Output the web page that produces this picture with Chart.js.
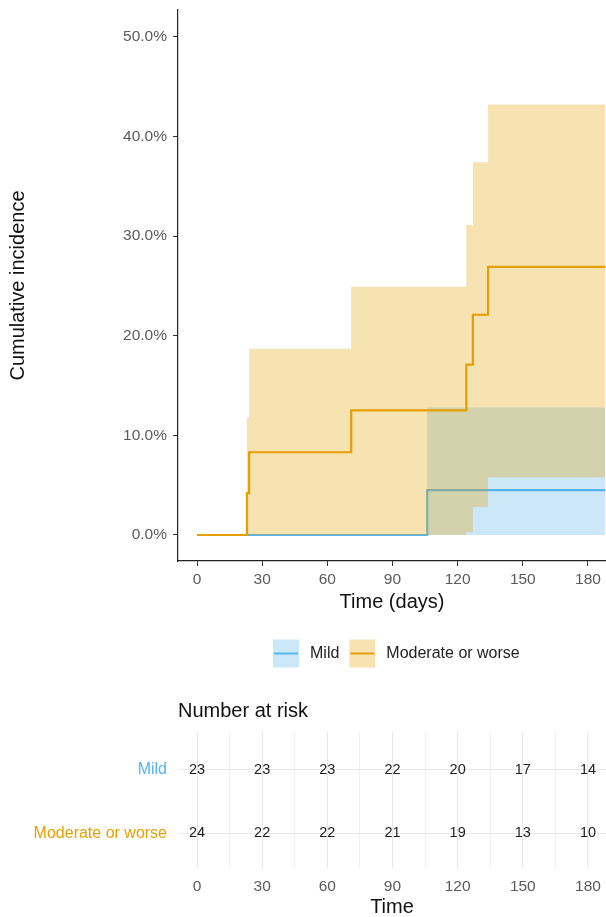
<!DOCTYPE html>
<html><head><meta charset="utf-8">
<script src="https://cdn.jsdelivr.net/npm/chart.js@4.4.1/dist/chart.umd.min.js"></script>
<style>html,body{margin:0;padding:0;background:#fff;overflow:hidden;}canvas{display:block;}</style>
</head><body>
<canvas id="main" width="606" height="690"></canvas>
<canvas id="risk" width="606" height="227"></canvas>
<script>
// ---- data ----
const groups = ['Mild', 'Moderate or worse'];
const modTimes  = [0, 23, 24, 71, 124, 127, 134, 188];
const modEst    = [0, 4.2, 8.3, 12.5, 17.1, 22.1, 26.9, 26.9];
const modUpper  = [0, 11.8, 18.7, 24.9, 31.1, 37.4, 43.2, 43.2];
const modLower  = [0, 0, 0, 0, 0.3, 2.8, 5.8, 5.8];
const mildTimes = [0, 106, 188];
const mildEst   = [0, 4.5, 4.5];
const mildUpper = [0, 12.8, 12.8];
const mildLower = [0, 0, 0];
const riskTimes    = [0, 30, 60, 90, 120, 150, 180];
const riskMild     = [23, 23, 23, 22, 20, 17, 14];
const riskModerate = [24, 22, 22, 21, 19, 13, 10];

const F = "'Liberation Sans', Arial, sans-serif";
const BLUE = '#56B4E9', ORANGE = '#E69F00';
const BLUE_F = 'rgba(86,180,233,0.3)', ORANGE_F = 'rgba(230,159,0,0.3)';
const NONE = 'rgba(0,0,0,0)';
const pts = (xs, ys) => xs.map((x, i) => ({x: x, y: ys[i]}));
const X_MIN = -8.75, X_MAX = 188.3;

function zeroPad(s){ s.paddingTop = 0; s.paddingBottom = 0; s.paddingLeft = 0; s.paddingRight = 0; }

const legendPlugin = {
  id: 'keyLegend',
  afterDraw(chart) {
    const ctx = chart.ctx;
    const items = [
      {label: groups[0], line: BLUE, fill: BLUE_F},
      {label: groups[1], line: ORANGE, fill: ORANGE_F}
    ];
    const cy = 653.5, kw = 26, kh = 28;
    ctx.save();
    ctx.font = '16px ' + F;
    ctx.textBaseline = 'middle';
    ctx.textAlign = 'left';
    let x = 273;
    items.forEach(it => {
      ctx.fillStyle = it.fill;
      ctx.fillRect(x, cy - kh / 2, kw, kh);
      ctx.strokeStyle = it.line;
      ctx.lineWidth = 2;
      ctx.beginPath(); ctx.moveTo(x + 1, cy); ctx.lineTo(x + kw - 1, cy); ctx.stroke();
      x += kw + 11;
      ctx.fillStyle = '#222';
      ctx.fillText(it.label, x, cy);
      x += ctx.measureText(it.label).width + 10;
    });
    ctx.restore();
  }
};

new Chart(document.getElementById('main'), {
  type: 'line',
  data: {
    datasets: [
      {label: groups[1], data: pts(modTimes, modEst), borderColor: ORANGE, borderWidth: 2.2, stepped: true, pointRadius: 0, fill: false},
      {label: 'mod upper', data: pts(modTimes, modUpper), borderColor: NONE, borderWidth: 0, stepped: true, pointRadius: 0, fill: {target: 2}, backgroundColor: ORANGE_F},
      {label: 'mod lower', data: pts(modTimes, modLower), borderColor: NONE, borderWidth: 0, stepped: true, pointRadius: 0, fill: false},
      {label: groups[0], data: pts(mildTimes, mildEst), borderColor: BLUE, borderWidth: 2.2, stepped: true, pointRadius: 0, fill: false},
      {label: 'mild upper', data: pts(mildTimes, mildUpper), borderColor: NONE, borderWidth: 0, stepped: true, pointRadius: 0, fill: {target: 5}, backgroundColor: BLUE_F},
      {label: 'mild lower', data: pts(mildTimes, mildLower), borderColor: NONE, borderWidth: 0, stepped: true, pointRadius: 0, fill: false}
    ]
  },
  options: {
    responsive: false, animation: false, devicePixelRatio: 1,
    layout: {padding: {top: 10, bottom: 69, left: 0, right: 0}},
    plugins: {legend: {display: false}, tooltip: {enabled: false}},
    scales: {
      x: {
        type: 'linear', min: X_MIN, max: X_MAX,
        ticks: {stepSize: 30, includeBounds: false, color: '#5a5a5a', font: {family: F, size: 15.5}, padding: 4, maxRotation: 0, autoSkip: false},
        grid: {drawOnChartArea: false, drawTicks: true, tickLength: 5, tickColor: '#333', tickWidth: 1},
        border: {display: true, color: '#222', width: 1.2},
        title: {display: true, text: 'Time (days)', color: '#111', font: {family: F, size: 20, lineHeight: 1}, padding: {top: 0, bottom: 9}},
        afterFit: s => { s.height = 60; zeroPad(s); }
      },
      y: {
        type: 'linear', min: -2.61, max: 52.68,
        ticks: {stepSize: 10, includeBounds: false, color: '#5a5a5a', font: {family: F, size: 15.5}, padding: 6, callback: v => v.toFixed(1) + '%'},
        grid: {drawOnChartArea: false, drawTicks: true, tickLength: 5, tickColor: '#333', tickWidth: 1},
        border: {display: true, color: '#222', width: 1.2},
        title: {display: true, text: 'Cumulative incidence', color: '#111', font: {family: F, size: 20, lineHeight: 1}, padding: {top: 8, bottom: 0}},
        afterFit: s => { s.width = 178; zeroPad(s); }
      }
    }
  },
  plugins: [legendPlugin]
});

const numbersPlugin = {
  id: 'riskNumbers',
  afterDatasetsDraw(chart) {
    const ctx = chart.ctx;
    ctx.save();
    ctx.font = '14.5px ' + F;
    ctx.fillStyle = '#1e1e1e';
    ctx.textAlign = 'center';
    ctx.textBaseline = 'middle';
    chart.data.datasets.forEach((ds, di) => {
      chart.getDatasetMeta(di).data.forEach((el, i) => {
        ctx.fillText(String(ds.data[i].n), el.x, el.y);
      });
    });
    ctx.restore();
  }
};

new Chart(document.getElementById('risk'), {
  type: 'scatter',
  data: {
    datasets: [
      {label: groups[0], data: riskTimes.map((t, i) => ({x: t, y: 1, n: riskMild[i]})), pointRadius: 0},
      {label: groups[1], data: riskTimes.map((t, i) => ({x: t, y: 0, n: riskModerate[i]})), pointRadius: 0}
    ]
  },
  options: {
    responsive: false, animation: false, devicePixelRatio: 1,
    layout: {padding: 0},
    plugins: {
      legend: {display: false}, tooltip: {enabled: false},
      title: {display: true, text: 'Number at risk', align: 'start', fullSize: false, color: '#111',
              font: {family: F, size: 20, weight: 'normal', lineHeight: 1.2}, padding: {top: 9, bottom: 9}}
    },
    scales: {
      x: {
        type: 'linear', min: X_MIN, max: X_MAX,
        ticks: {stepSize: 15, includeBounds: false, autoSkip: false, maxRotation: 0, color: '#5a5a5a', font: {family: F, size: 15.5}, padding: 9,
                callback: v => (v % 30 === 0 ? String(v) : '')},
        grid: {drawTicks: false, lineWidth: 1, color: c => (c.tick && c.tick.value % 30 === 0 ? '#E6E6E6' : '#EFEFEF')},
        border: {display: false},
        title: {display: true, text: 'Time', color: '#111', font: {family: F, size: 20, lineHeight: 1}, padding: {top: 0, bottom: 0}},
        afterFit: s => { s.height = 49; zeroPad(s); }
      },
      y: {
        type: 'linear', min: -0.55, max: 1.6,
        afterBuildTicks: s => { s.ticks = [{value: 0}, {value: 1}]; },
        ticks: {padding: 11, font: {family: F, size: 16},
                color: c => (c.tick && c.tick.value === 1 ? BLUE : ORANGE),
                callback: v => (v === 1 ? groups[0] : groups[1])},
        grid: {drawTicks: false, color: '#E8E8E8', lineWidth: 1},
        border: {display: false},
        afterFit: s => { s.width = 178; zeroPad(s); }
      }
    }
  },
  plugins: [numbersPlugin]
});
</script>
</body></html>
